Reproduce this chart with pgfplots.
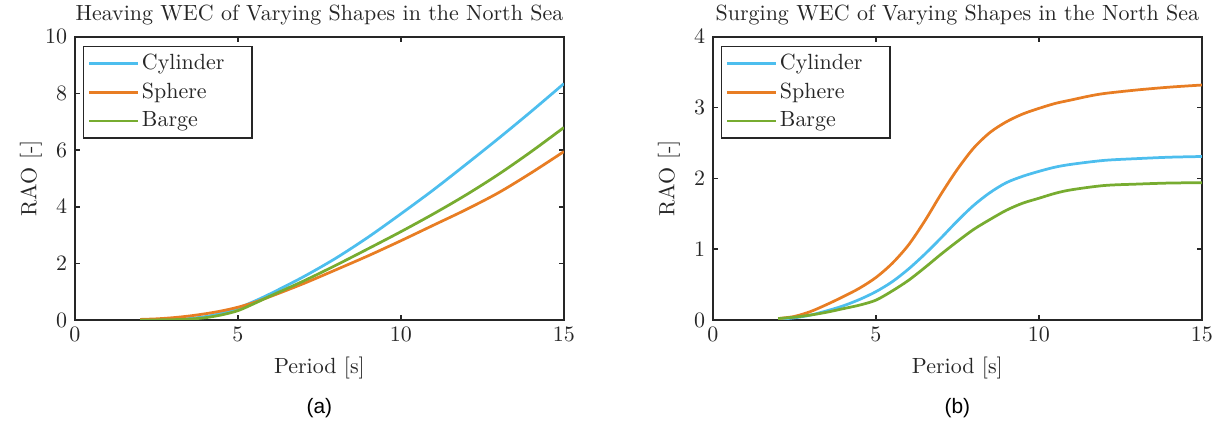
\documentclass[border=0pt]{standalone}
\usepackage{fontspec}
\newfontfamily\capfont{Liberation Sans}
\usepackage{pgfplots}
\pgfplotsset{compat=1.18}
\definecolor{cyl}{RGB}{77,190,238}
\definecolor{sph}{RGB}{232,125,35}
\definecolor{brg}{RGB}{119,172,48}
\definecolor{axc}{RGB}{38,38,38}
\pgfplotsset{
 myax/.style={
  width=222.5pt, height=128.8pt, scale only axis,
  xmin=0, xmax=15, xtick={0,5,10,15},
  tick align=inside, major tick length=2.3pt,
  axis line style={axc, line width=0.7pt},
  every tick/.style={axc, line width=0.7pt},
  tick label style={font=\fontsize{10}{12}\selectfont, text=axc},
  label style={font=\fontsize{10}{12}\selectfont, text=axc},
  every axis title/.style={at={(0.5,1)}, anchor=base, yshift=7.3pt, font=\fontsize{10}{12}\selectfont, text=axc},
  xlabel={Period [s]}, ylabel={RAO [-]},
  ylabel style={at={(axis description cs:-0.09,0.5)}, anchor=center},
  legend style={at={(0,1)}, anchor=north west, xshift=3.6pt, yshift=-4.1pt,
    draw=axc, line width=0.7pt, fill=white, inner xsep=2pt, inner ysep=2.5pt,
    row sep=2.5pt, font=\fontsize{10}{12}\selectfont, text=axc,
    nodes={inner sep=1pt}},
  legend cell align=left,
  legend image code/.code={\draw[#1, line width=1.25pt] (0pt,0pt) -- (22.3pt,0pt);},
  every axis plot/.append style={line width=1.25pt, smooth},
 }
}
\begin{document}
\begin{tikzpicture}
\path[use as bounding box] (0,0) rectangle (555.6pt,-192.5pt);
\begin{axis}[myax, name=ax1, at={(34.1pt,-16.8pt)}, anchor=north west,
  ymin=0, ymax=10, ytick={0,2,4,6,8,10},
  title={Heaving WEC of Varying Shapes in the North Sea}]
\addplot[cyl] coordinates {(2,0)(2.5,0.005)(3,0.02)(3.5,0.05)(4,0.12)(4.5,0.24)(5,0.42)(5.5,0.66)(6,0.93)(7,1.52)(8,2.18)(9,2.93)(10,3.75)(11,4.6)(12,5.5)(13,6.42)(14,7.37)(15,8.35)};
\addlegendentry{\makebox[47pt][l]{Cylinder}}
\addplot[sph] coordinates {(2,0.02)(2.5,0.04)(3,0.08)(3.5,0.14)(4,0.22)(4.5,0.32)(5,0.45)(5.5,0.62)(6,0.83)(7,1.28)(8,1.77)(9,2.27)(10,2.8)(11,3.35)(12,3.9)(13,4.5)(14,5.2)(15,5.95)};
\addlegendentry{\makebox[47pt][l]{Sphere}}
\addplot[brg] coordinates {(2,0)(2.5,0.003)(3,0.01)(3.5,0.03)(4,0.08)(4.5,0.18)(5,0.33)(5.5,0.58)(6,0.85)(7,1.37)(8,1.93)(9,2.52)(10,3.12)(11,3.75)(12,4.42)(13,5.15)(14,5.95)(15,6.8)};
\addlegendentry{\makebox[47pt][l]{Barge}}
\end{axis}
\begin{axis}[myax, name=ax2, at={(324.4pt,-16.8pt)}, anchor=north west,
  ymin=0, ymax=4, ytick={0,1,2,3,4},
  title={Surging WEC of Varying Shapes in the North Sea}]
\addplot[cyl] coordinates {(2,0.01)(2.5,0.03)(3,0.07)(3.5,0.13)(4,0.2)(4.5,0.29)(5,0.4)(5.5,0.54)(6,0.72)(6.5,0.93)(7,1.16)(7.5,1.4)(8,1.62)(8.5,1.8)(9,1.94)(9.5,2.03)(10,2.1)(10.5,2.16)(11,2.2)(12,2.255)(13,2.28)(14,2.3)(15,2.31)};
\addlegendentry{\makebox[47pt][l]{Cylinder}}
\addplot[sph] coordinates {(2,0.02)(2.5,0.05)(3,0.12)(3.5,0.22)(4,0.33)(4.5,0.45)(5,0.6)(5.5,0.8)(6,1.06)(6.5,1.4)(7,1.78)(7.5,2.13)(8,2.43)(8.5,2.65)(9,2.8)(9.5,2.91)(10,2.99)(10.5,3.06)(11,3.11)(11.5,3.16)(12,3.2)(13,3.25)(14,3.29)(15,3.32)};
\addlegendentry{\makebox[47pt][l]{Sphere}}
\addplot[brg] coordinates {(2,0.02)(2.5,0.04)(3,0.07)(3.5,0.11)(4,0.16)(4.5,0.21)(5,0.28)(5.5,0.41)(6,0.56)(6.5,0.74)(7,0.93)(7.5,1.11)(8,1.28)(8.5,1.42)(9,1.55)(9.5,1.65)(10,1.72)(10.5,1.79)(11,1.84)(12,1.9)(13,1.92)(14,1.935)(15,1.94)};
\addlegendentry{\makebox[47pt][l]{Barge}}
\end{axis}
\node[font=\capfont\fontsize{9.5}{11}\selectfont] at ([yshift=-40pt]ax1.south) {(a)};
\node[font=\capfont\fontsize{9.5}{11}\selectfont] at ([yshift=-40pt]ax2.south) {(b)};
\end{tikzpicture}
\end{document}
